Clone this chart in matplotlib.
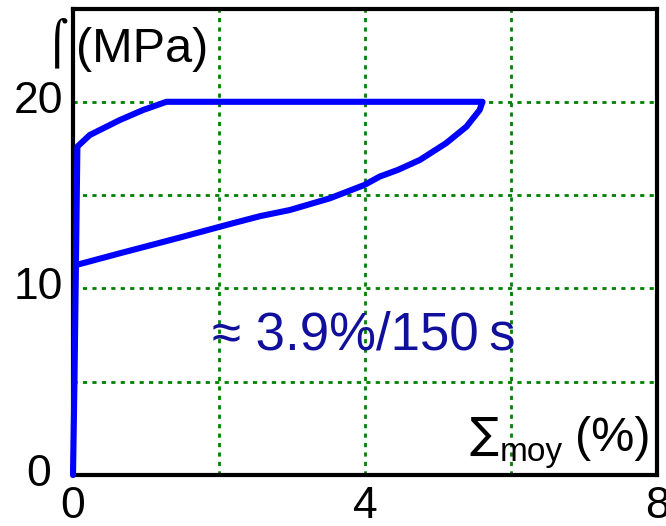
import matplotlib
matplotlib.use("Agg")
import matplotlib.pyplot as plt
from matplotlib.transforms import ScaledTranslation

plt.rcParams['font.family'] = ['Liberation Sans', 'DejaVu Sans']

# data (strain %, stress MPa)
strain = [0.0, 0.02, 0.04, 0.06, 0.23, 0.64, 0.96, 1.28, 5.61, 5.57, 5.39, 5.11,
          4.75, 4.45, 4.20, 3.99, 3.52, 2.97, 2.56, 2.15, 1.42, 0.64, 0.04]
stress = [0.0, 5.0, 11.25, 17.6, 18.22, 19.02, 19.56, 20.0, 20.0, 19.56, 18.67, 17.78,
          16.88, 16.35, 15.99, 15.54, 14.83, 14.2, 13.87, 13.45, 12.68, 11.88, 11.25]

xticks = [0, 2, 4, 6, 8]
xtick_labels = ['0', '', '4', '', '8']
yticks = [0, 5, 10, 15, 20]
ytick_labels = ['0', '', '10', '', '20']

W, H = 666, 526
fig = plt.figure(figsize=(W / 100, H / 100), dpi=100)
ax = fig.add_axes([73 / W, 1 - 475 / H, (657 - 73) / W, (475 - 8.5) / H])

ax.set_xlim(0, 8)
ax.set_ylim(0, 25)
ax.set_xticks(xticks)
ax.set_xticklabels(xtick_labels)
ax.set_yticks(yticks)
ax.set_yticklabels(ytick_labels)
ax.tick_params(length=0, labelsize=32)
ax.tick_params(axis='x', pad=8)
ax.tick_params(axis='y', pad=25)
shift = ScaledTranslation(0, 5 / 100, fig.dpi_scale_trans)
for lab in ax.get_yticklabels():
    lab.set_horizontalalignment('center')
    lab.set_transform(lab.get_transform() + shift)

ax.grid(True, color='#008000', linestyle=(0, (1.5, 1.9)), linewidth=2)
ax.set_axisbelow(True)
for s in ax.spines.values():
    s.set_linewidth(3)
    s.set_color('black')

ax.plot(strain, stress, color='#0000ff', lw=4.4, solid_joinstyle='round',
        solid_capstyle='round', clip_on=False, zorder=3)


def px(x, y):
    return x / W, 1 - y / H


fig.text(*px(46, 57), '\u2320', fontsize=31, family=['DejaVu Sans'], ha='left', va='baseline')
fig.text(*px(76, 62), '(MPa)', fontsize=35, ha='left', va='baseline')
fig.text(*px(212, 350), '\u2248 3.9%/150\u2009s', fontsize=38, color='#10109c',
         ha='left', va='baseline')
fig.text(*px(469, 448), '\u2211', fontsize=31, family=['DejaVu Sans'], ha='left', va='baseline')
fig.text(*px(500, 461), 'moy', fontsize=24, ha='left', va='baseline')
fig.text(*px(575, 451), '(%)', fontsize=35, ha='left', va='baseline')

fig.savefig('out.png', dpi=100)
